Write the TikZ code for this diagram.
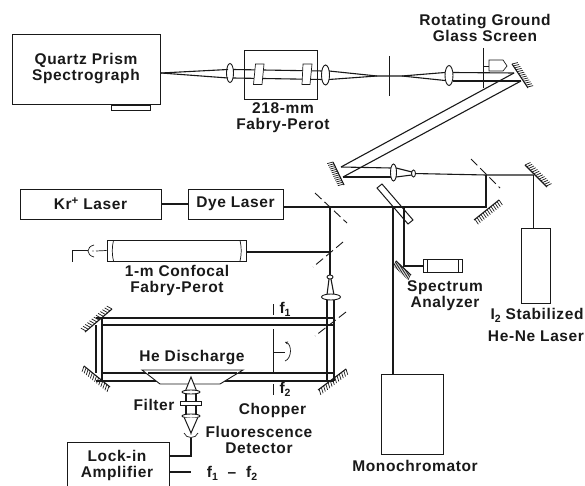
\documentclass[tikz,border=0pt]{standalone}
\usepackage{fontspec}
\setmainfont{Liberation Sans}[LetterSpace=4]
\usetikzlibrary{calc,arrows.meta,shapes.geometric}
\definecolor{ink}{gray}{0.1}
\tikzset{
  box/.style={draw=ink,line width=0.9pt,inner sep=0pt,fill=white},
  beam/.style={draw=ink,line width=1.1pt},
  thinline/.style={draw=ink,line width=0.7pt},
  split/.style={draw=ink,line width=0.9pt,dash pattern=on 9pt off 4pt},
  lab/.style={font=\fontsize{15.5}{16}\selectfont\bfseries,text=ink,align=center,inner sep=0pt},
  lens/.style={draw=ink,fill=white,ellipse,line width=0.9pt},
}
\newcommand{\subb}[1]{\raisebox{-3pt}{\fontsize{10.5}{10.5}\selectfont #1}}
\newcommand{\supp}[1]{\raisebox{5pt}{\fontsize{11.5}{11.5}\selectfont #1}}
% mirror: end points, hatch angle relative to the mirror direction
\newcommand{\hatchmirror}[3]{%
  \draw[beam] (#1) -- (#2);
  \foreach \t in {0,0.08,...,1.01}{
    \draw[thinline] ($(#1)!\t!(#2)$) -- ($(#1)!\t!(#2) + (#1)!6pt!#3:(#2) - (#1)$);
  }}
\newcommand{\lensat}[4]{\node[lens,minimum width=#3,minimum height=#4,inner sep=0pt] (#1) at (#2) {};}
\begin{document}
\begin{tikzpicture}[x=1pt,y=-1pt]
\useasboundingbox (0,0) rectangle (585,486);
% instruments
\node[box,minimum width=148,minimum height=70,lab] (spec) at (86,69) {Quartz Prism\\Spectrograph};
\node[box,minimum width=39,minimum height=5] (specfoot) at (130.5,107.5) {};
\node[box,minimum width=141,minimum height=30,lab] (kr) at (90.5,204) {Kr\supp{+} Laser};
\node[box,minimum width=95,minimum height=30,lab] (dye) at (235.5,204) {Dye Laser};
\node[box,minimum width=29,minimum height=75] (hene) at (535.5,265.5) {};
\node[box,minimum width=62,minimum height=80] (mono) at (412,414) {};
\node[draw=ink,line width=0.9pt,minimum width=73,minimum height=49,inner sep=0pt] (etbox) at (280.5,74.5) {};
\node[box,minimum width=139,minimum height=21] (fp) at (176.5,250.5) {};
\node[box,minimum width=39,minimum height=13] (sa) at (442.5,265.5) {};
% open-bottom lock-in box
\coordinate (lockBL) at (67,486); \coordinate (lockTL) at (67,442);
\coordinate (lockTR) at (169,442); \coordinate (lockBR) at (169,486);
\draw[thinline] (lockBL) -- (lockTL) -- (lockTR) -- (lockBR);
\node[lab] (locktext) at (117,465) {Lock-in\\Amplifier};
% upper beam
\coordinate (specout) at (161,73);
\lensat{lensA}{230,73}{7}{19}
\draw[beam] (specout) -- (228,69.5); \draw[beam] (specout) -- (228,78);
\draw[beam] (233,69.5) -- (323,71); \draw[beam] (233,78) -- (323,79.5);
\lensat{lensB}{325.5,75}{8}{20}
\draw[thinline,fill=white] (255.5,64) -- (264,64) -- (262,84.5) -- (253.5,84.5) -- cycle;
\draw[thinline,fill=white] (303,64) -- (312,64) -- (310,84.5) -- (302,84.5) -- cycle;
\coordinate (focA) at (377,76); \coordinate (focB) at (402,76);
\draw[beam] (329,71) -- (focA) -- (focB) -- (445,72.5);
\draw[beam] (329,79.5) -- (focA); \draw[beam] (focB) -- (445,80.5);
\coordinate (pinT) at (389,56); \coordinate (pinB) at (389,96);
\draw[thinline] (pinT) -- (pinB);
\lensat{lensC}{449,75.5}{8}{20}
\coordinate (screenT) at (483,48); \coordinate (screenB) at (483,88);
\draw[thinline] (screenT) -- (screenB);
% motor of the screen
\draw[thinline,fill=white] (489,60) -- (503,60) -- (507,66) -- (503,71) -- (489,71) -- cycle;
\draw[thinline] (483,66) -- (489,66);
\coordinate (mTa) at (512,64); \coordinate (mTb) at (528,88);
\coordinate (hitA) at (514,73); \coordinate (hitB) at (521,81);
\draw[beam] (453,72.5) -- (hitA); \draw[beam] (453,81) -- (hitB);
\hatchmirror{mTa}{mTb}{70}
% diagonal pair
\coordinate (mLa) at (333,162); \coordinate (mLb) at (344,185);
\coordinate (hitC) at (341,167); \coordinate (hitD) at (343,177);
\draw[beam] (hitA) -- (hitC); \draw[beam] (hitB) -- (hitD);
\hatchmirror{mLa}{mLb}{-100}
\draw[beam] (hitC) -- (391,168); \draw[beam] (hitD) -- (391,177);
\lensat{lensD}{393.5,172.5}{6}{17}
\lensat{lensE}{413.5,173.5}{4}{7}
\draw[beam] (396,168) -- (412,172); \draw[beam] (396,177) -- (412,175);
% he-ne line
\coordinate (bsT) at (486,175); \coordinate (mR) at (533.5,175);
\draw[beam] (lensE) -- (bsT) -- (mR);
\coordinate (mRa) at (525,165); \coordinate (mRb) at (547,187);
\hatchmirror{mRa}{mRb}{70}
\draw[beam] (mR) -- (hene.north -| mR);
\draw[split] (471,159) -- (500,188);
% main laser line
\coordinate (bs1) at (330,207); \coordinate (m3) at (486,207);
\coordinate (plA) at (393,207); \coordinate (plB) at (404,207);
\draw[beam] (kr.east) -- (dye.west);
\draw[beam] (dye.east |- bs1) -- (bs1) -- (m3) -- (bsT);
\coordinate (m3a) at (474,220); \coordinate (m3b) at (499,200);
\hatchmirror{m3b}{m3a}{85}
\draw[split] (315,193) -- (347,223);
\draw[beam] (plA) -- (mono.north -| plA);
\coordinate (saM) at (404,266);
\draw[beam] (plB) -- (saM) -- (sa.west |- saM);
\coordinate (m5a) at (396,261); \coordinate (m5b) at (411,275);
\hatchmirror{m5a}{m5b}{-70}
% tilted plate
\draw[draw=ink,line width=1pt] (377,188) -- (382,184) -- (413,220) -- (408,224) -- cycle;
\draw[thinline] (427,259) -- (427,272) (458,259) -- (458,272);
% confocal FP
\coordinate (bs2) at (330,252);
\draw[beam] (bs1) -- (bs2) -- (fp.east |- bs2);
\draw[split] (343,242) -- (313,267);
\draw[thinline] (113.5,240.5) to[bend right=12] (113.5,261);
\draw[thinline] (240,240.5) to[bend left=12] (240,261);
\draw[thinline] (fp.west) -- (96,251);
\draw[thinline] (94,245) .. controls (86,247) and (86,255) .. (94,257);
\fill[ink] (93,251) circle (0.6);
\coordinate (detA) at (88,250); \coordinate (detB) at (72,250); \coordinate (detC) at (72,262);
\draw[thinline] (detA) -- (detB) -- (detC);
% lenses on vertical
\coordinate (lnsF) at (330,277);
\draw[beam] (bs2) -- (lnsF);
\draw[beam] (329,279) -- (327,295) (331,279) -- (334,295);
\lensat{lensF}{330,277}{6}{4}
\lensat{lensG}{331,297}{19}{6}
% cavity
\coordinate (c1) at (327,318); \coordinate (c2) at (334,318);
\coordinate (c3) at (327,381); \coordinate (c4) at (334,381);
\draw[beam] (c1 |- lensG.south) -- (c3);
\draw[beam] (c2 |- lensG.south) -- (c4);
\coordinate (tl1) at (96,318); \coordinate (tl2) at (102,325);
\coordinate (bl1) at (96,381); \coordinate (bl2) at (102,373);
\draw[beam] (tl1) -- (c2);
\draw[beam] (tl2) -- (c2 |- tl2);
\draw[beam] (bl1) -- (c4);
\draw[beam] (bl2) -- (c4 |- bl2);
\draw[beam] (tl2 |- tl1) -- (tl2 |- bl1);
\draw[beam] (tl1 |- tl2) -- (tl1 |- bl2);
\coordinate (mA) at (112,309); \coordinate (mB) at (85,332);
\hatchmirror{mA}{mB}{-70}
\coordinate (mC) at (84,366); \coordinate (mD) at (110,387);
\hatchmirror{mC}{mD}{-70}
\coordinate (mE) at (346,369); \coordinate (mF) at (318,390);
\hatchmirror{mE}{mF}{70}
\draw[split] (346,312) -- (315,336);
% chopper
\coordinate (ch1) at (273,304); \coordinate (ch2) at (273,315);
\coordinate (ch3) at (273,329); \coordinate (ch4) at (273,372);
\coordinate (ch5) at (273,384); \coordinate (ch6) at (273,395);
\draw[thinline] (ch1) -- (ch2) (ch3) -- (ch4) (ch5) -- (ch6);
\draw[thinline] (273,352) -- (285,352);
\draw[thinline,-{Stealth[length=3pt,width=3pt]}] (285,361) to[out=20,in=-20] (285,342);
% discharge
\draw[draw=ink,line width=0.9pt,fill=white] (142,370) -- (243,370) -- (220,384) -- (160,384) -- cycle;
\draw[beam] (148,373) -- (237,373);
% filter stack
\coordinate (fA) at (191,377); \coordinate (fB) at (191,433);
\draw[draw=ink,line width=1pt,fill=white] (fA) -- (197,392) -- (185,392) -- cycle;
\draw[beam] (186,392) -- (186,420) (196,392) -- (196,420);
\node[lens,minimum width=18,minimum height=4,inner sep=0pt] (fl1) at (191,392) {};
\node[box,minimum width=21,minimum height=4.5] (fbar) at (191,403.5) {};
\node[lens,minimum width=18,minimum height=4,inner sep=0pt] (fl2) at (191,416) {};
\draw[draw=ink,line width=1pt,fill=white] (fl2.south west) -- (fB) -- (fl2.south east);
\draw[thinline] (184,433) .. controls (186,439) and (196,439) .. (198,433);
\coordinate (dt) at (191,438); \coordinate (dt2) at (191,456);
\fill[ink] (191,434) circle (0.6);
\draw[beam] (dt) -- (dt2) -- (lockTR |- dt2);
\coordinate (ff) at (191,472);
\draw[beam] (lockTR |- ff) -- (ff);
% labels
\node[lab] (t1) at (283,118) {218-mm\\Fabry-Perot};
\node[lab] (t2) at (485,28) {Rotating Ground\\Glass Screen};
\node[lab] (t3) at (177,280) {1-m Confocal\\Fabry-Perot};
\node[lab] (t4) at (445,295.5) {Spectrum\\Analyzer};
\node[lab] (t5) at (537,315) {I\subb{2} Stabilized};
\node[lab] (t6) at (536,336) {He-Ne Laser};
\node[lab] (t7) at (415,466) {Monochromator};
\node[lab] (t8) at (192,358) {He Discharge};
\node[lab] (t9) at (154,405) {Filter};
\node[lab] (t10) at (272.5,410) {Chopper};
\node[lab] (t11) at (259,440) {Fluorescence\\Detector};
\node[lab] (t12) at (285,309) {f\subb{1}};
\node[lab] (t13) at (285,389) {f\subb{2}};
\node[lab] (t14) at (232,473) {f\subb{1}\ \ --\ \ f\subb{2}};
\end{tikzpicture}
\end{document}
